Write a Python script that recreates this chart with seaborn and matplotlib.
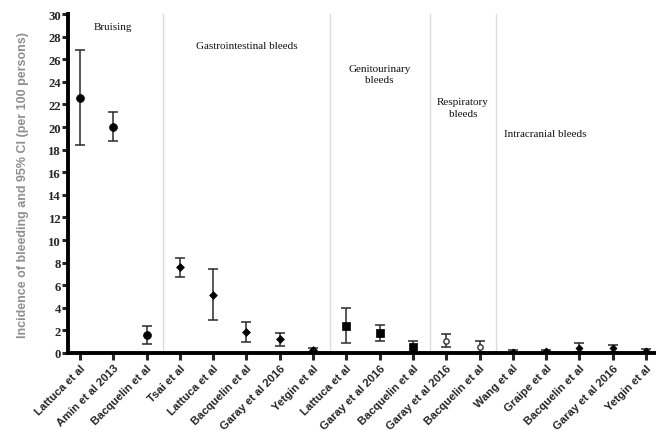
import matplotlib
matplotlib.use("Agg")
import matplotlib.pyplot as plt
import seaborn as sns
import pandas as pd
import numpy as np

# Study labels along the x axis
studies = ["Lattuca et al", "Amin et al 2013", "Bacquelin et al",
           "Tsai et al", "Lattuca et al", "Bacquelin et al", "Garay et al 2016", "Yetgin et al",
           "Lattuca et al", "Garay et al 2016", "Bacquelin et al",
           "Garay et al 2016", "Bacquelin et al",
           "Wang et al", "Graipe et al", "Bacquelin et al", "Garay et al 2016", "Yetgin et al"]
bleed_type = (["Bruising"] * 3 + ["Gastrointestinal"] * 5 + ["Genitourinary"] * 3
              + ["Respiratory"] * 2 + ["Intracranial"] * 5)

# Incidence per 100 persons with 95% CI
incidence = [22.6, 20.0, 1.55,
             7.6, 5.15, 1.85, 1.2, 0.22,
             2.4, 1.75, 0.55,
             1.1, 0.57,
             0.12, 0.17, 0.48, 0.4, 0.2]
ci_low = [18.4, 18.75, 0.8,
          6.75, 2.9, 1.0, 0.62, 0.02,
          0.85, 1.05, 0.05,
          0.53, 0.1,
          0.02, 0.05, 0.1, 0.05, 0.05]
ci_high = [26.85, 21.3, 2.35,
           8.45, 7.4, 2.7, 1.8, 0.45,
           4.0, 2.45, 1.05,
           1.7, 1.05,
           0.22, 0.28, 0.9, 0.75, 0.35]

group_titles = ["Bruising", "Gastrointestinal bleeds", "Genitourinary\nbleeds",
                "Respiratory\nbleeds", "Intracranial bleeds"]

df = pd.DataFrame({"pos": np.arange(len(studies)), "study": studies,
                   "type": bleed_type, "inc": incidence,
                   "lo": ci_low, "hi": ci_high})

sns.set_style("white")
plt.rcParams["font.family"] = ["Liberation Sans", "DejaVu Sans"]

fig = plt.figure(figsize=(6.56, 4.31), dpi=100)
ax = fig.add_axes([0.1037, 0.1787, 0.8963, 0.7863])

# Separators between bleeding types
for xs in [2.5, 7.5, 10.5, 12.5]:
    ax.axvline(xs, color="#dcdcdc", lw=1.0, zorder=0)

# Confidence intervals
ax.errorbar(df["pos"], df["inc"],
            yerr=[df["inc"] - df["lo"], df["hi"] - df["inc"]],
            fmt="none", ecolor="#2a2a2a", elinewidth=1.1, capsize=3.5,
            capthick=1.1, zorder=2)

markers = {"Bruising": "o", "Gastrointestinal": "D", "Genitourinary": "s",
           "Respiratory": "o", "Intracranial": "D"}
sizes = {"Bruising": 32, "Gastrointestinal": 16, "Genitourinary": 30,
         "Respiratory": 15, "Intracranial": 13}

for t, sub in df.groupby("type", sort=False):
    open_mk = t == "Respiratory"
    sns.scatterplot(data=sub, x="pos", y="inc", marker=markers[t], s=sizes[t],
                    color="white" if open_mk else "black",
                    edgecolor="#333333" if open_mk else "black",
                    linewidth=1.0 if open_mk else 0.5, zorder=3, ax=ax,
                    legend=False)

# Group titles
title_font = dict(family="Liberation Serif", fontsize=8.0, color="#111111")
ax.text(1, 28.9, group_titles[0], ha="center", va="center", **title_font)
ax.text(5, 27.2, group_titles[1], ha="center", va="center", **title_font)
ax.text(9, 24.7, group_titles[2], ha="center", va="center",
        linespacing=1.4, **title_font)
ax.text(11.5, 21.7, group_titles[3], ha="center", va="center",
        linespacing=1.4, **title_font)
ax.text(12.72, 19.4, group_titles[4], ha="left", va="center", **title_font)

ax.set_xlim(-0.36, 17.3)
ax.set_ylim(0, 30)
ax.set_yticks(np.arange(0, 31, 2))
ax.set_yticklabels([str(v) for v in range(0, 31, 2)],
                   family="Liberation Serif", fontweight="bold", fontsize=9.2)
ax.set_xticks(df["pos"])
ax.set_xticklabels(studies, rotation=45, ha="right", rotation_mode="anchor",
                   fontweight="bold", fontsize=8.1)
ax.set_xlabel("")
ax.set_ylabel("Incidence of bleeding and 95% CI (per 100 persons)",
              fontsize=9.0, fontweight="bold", color="#8f8f8f", labelpad=14)

for side in ["top", "right"]:
    ax.spines[side].set_visible(False)
for side in ["left", "bottom"]:
    ax.spines[side].set_linewidth(2.8)
    ax.spines[side].set_color("black")
ax.tick_params(axis="y", direction="out", length=4, width=2.2, pad=1, left=True)
ax.tick_params(axis="x", direction="out", length=5, width=2.2, pad=2, bottom=True)

fig.savefig("out.png", dpi=100)
